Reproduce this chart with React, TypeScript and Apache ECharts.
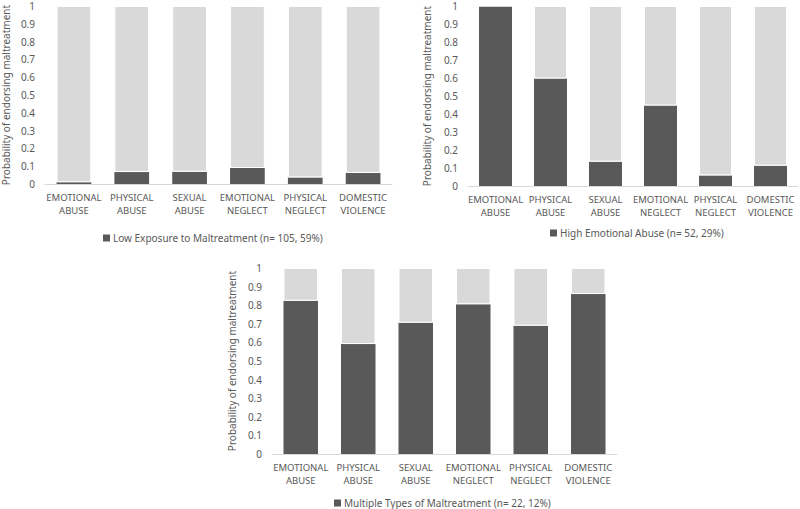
import React, { useEffect, useRef } from "react";
import * as echarts from "echarts";

const categories = [
  "EMOTIONAL\nABUSE",
  "PHYSICAL\nABUSE",
  "SEXUAL\nABUSE",
  "EMOTIONAL\nNEGLECT",
  "PHYSICAL\nNEGLECT",
  "DOMESTIC\nVIOLENCE",
];

const lowExposure = [0.01, 0.067, 0.069, 0.09, 0.037, 0.062];
const highEmotional = [1.0, 0.597, 0.135, 0.447, 0.059, 0.113];
const multipleTypes = [0.824, 0.591, 0.706, 0.805, 0.69, 0.86];

const seriesNames = [
  "Low Exposure to Maltreatment (n= 105, 59%)",
  "High Emotional Abuse (n= 52, 29%)",
  "Multiple Types of Maltreatment (n= 22, 12%)",
];

const yTitle = "Probability of endorsing maltreatment";

const DARK = "#595959";
const LIGHT = "#d9d9d9";
const TEXT = "#595959";
const FONT = "Noto Sans";

export default function App() {
  const ref = useRef<HTMLDivElement>(null);

  useEffect(() => {
    if (!ref.current) return;
    const chart = echarts.init(ref.current, undefined, { renderer: "svg" });

    const grids = [
      { left: 39, width: 353, top: 6, height: 178 },
      { left: 468, width: 330, top: 6, height: 180 },
      { left: 272, width: 345, top: 268, height: 186 },
    ];
    const datasets = [lowExposure, highEmotional, multipleTypes];
    const nameGaps = [34, 36, 35];

    const xAxis = grids.map((_, i) => ({
      type: "category",
      gridIndex: i,
      data: categories,
      axisLine: { lineStyle: { color: LIGHT, width: 1 } },
      axisTick: { show: false },
      axisLabel: {
        color: TEXT,
        fontFamily: FONT,
        fontSize: 9.5,
        lineHeight: 13,
        margin: 7,
        interval: 0,
      },
    }));

    const yAxis = grids.map((_, i) => ({
      type: "value",
      gridIndex: i,
      min: 0,
      max: 1,
      interval: 0.1,
      splitLine: { show: false },
      axisLine: { show: false },
      axisTick: { show: false },
      axisLabel: { color: TEXT, fontFamily: FONT, fontSize: 10, margin: 10 },
      name: yTitle,
      nameLocation: "middle",
      nameRotate: 90,
      nameGap: nameGaps[i],
      nameTextStyle: { color: TEXT, fontFamily: FONT, fontSize: 10 },
    }));

    const series: any[] = [];
    datasets.forEach((vals, i) => {
      series.push({
        type: "bar",
        name: seriesNames[i],
        xAxisIndex: i,
        yAxisIndex: i,
        stack: "s" + i,
        barWidth: "60%",
        data: vals,
        itemStyle: { color: DARK },
      });
      series.push({
        type: "bar",
        name: "rest" + i,
        xAxisIndex: i,
        yAxisIndex: i,
        stack: "s" + i,
        barWidth: "60%",
        data: vals.map((v) => +(1 - v).toFixed(3)),
        itemStyle: { color: LIGHT, borderColor: "#ffffff", borderWidth: 1 },
      });
    });

    const legendPos = [
      { left: 103, top: 233 },
      { left: 550, top: 228 },
      { left: 334, top: 498 },
    ];

    const legend = legendPos.map((p, i) => ({
      data: [seriesNames[i]],
      left: p.left,
      top: p.top,
      icon: "rect",
      itemWidth: 7,
      itemHeight: 7,
      itemGap: 0,
      padding: 0,
      selectedMode: false,
      textStyle: { color: TEXT, fontFamily: FONT, fontSize: 10, padding: [0, 0, 0, -2] },
    }));

    chart.setOption({
      animation: false,
      backgroundColor: "#ffffff",
      grid: grids,
      xAxis,
      yAxis,
      legend,
      series,
    });

    return () => chart.dispose();
  }, []);

  return (
    <div
      ref={ref}
      style={{ position: "fixed", left: 0, top: 0, width: 800, height: 509 }}
    />
  );
}
